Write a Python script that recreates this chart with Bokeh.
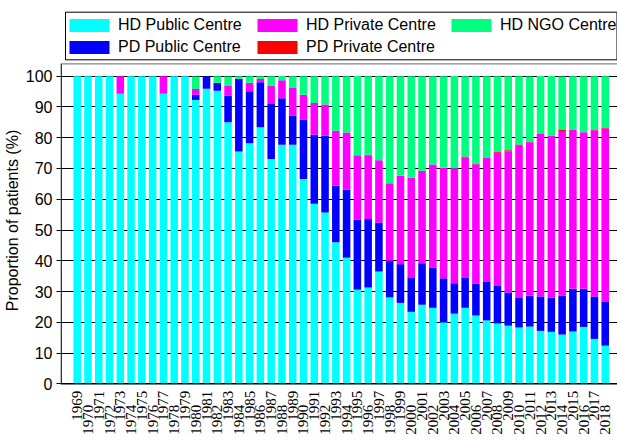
from bokeh.plotting import figure
from bokeh.models import (ColumnDataSource, Legend, LegendItem, LabelSet, FixedTicker,
                          Span, BoxAnnotation)
from bokeh.embed import file_html
from bokeh.resources import INLINE

years = list(range(1969, 2019))
year_labels = [str(y) for y in years]

hd_public = [100, 100, 100, 100, 94.3, 100, 100, 100, 94.3, 100,
             100, 92.3, 95.9, 95.3, 85.0, 75.5, 78.2, 83.4, 73.1, 77.7,
             77.7, 66.6, 58.5, 55.7, 46.0, 41.0, 30.6, 31.3, 36.5, 28.1,
             26.3, 23.4, 25.7, 24.7, 20.0, 22.8, 24.7, 22.2, 20.6, 19.6,
             18.9, 18.3, 18.6, 17.2, 16.9, 16.0, 17.0, 18.5, 14.6, 12.4]
pd_public = [0, 0, 0, 0, 0, 0, 0, 0, 0, 0,
             0, 1.7, 4.1, 2.6, 8.7, 23.7, 16.9, 14.6, 17.9, 15.1,
             9.5, 19.3, 22.5, 24.9, 18.4, 22.1, 22.8, 22.3, 15.9, 11.9,
             12.6, 11.2, 13.5, 13.0, 14.3, 9.9, 9.9, 10.4, 12.7, 12.4,
             10.8, 9.8, 10.0, 11.2, 11.1, 12.7, 13.9, 12.4, 13.8, 14.4]
hd_private = [0, 0, 0, 0, 5.7, 0, 0, 0, 5.7, 0,
              0, 1.8, 0, 0, 3.1, 0, 2.8, 1.1, 6.0, 5.9,
              9.0, 8.1, 10.3, 10.2, 17.9, 18.6, 20.9, 20.6, 20.3, 25.2,
              28.7, 32.4, 30.1, 33.6, 35.9, 37.4, 39.0, 38.8, 40.1, 43.1,
              45.9, 49.3, 49.9, 52.8, 52.7, 53.5, 51.8, 50.9, 54.0, 56.2]
pd_private = [0, 0, 0, 0, 0, 0, 0, 0, 0, 0,
              0, 0, 0, 0, 0, 0, 0, 0, 0, 0,
              0, 0, 0, 0, 0, 0, 0, 0.3, 0, 0,
              0, 0, 0, 0, 0, 0, 0.3, 0.2, 0.2, 0.4,
              0.3, 0.4, 0.3, 0, 0, 0.3, 0, 0, 0.3, 0.3]
hd_ngo = [0, 0, 0, 0, 0, 0, 0, 0, 0, 0,
          0, 4.1, 0, 2.1, 3.1, 0.8, 2.1, 0.9, 3.0, 1.4,
          3.8, 6.0, 8.7, 9.2, 17.7, 18.3, 25.8, 25.5, 27.3, 34.8,
          32.4, 33.0, 30.7, 28.7, 29.8, 30.0, 26.1, 28.4, 26.4, 24.5,
          24.1, 22.2, 21.1, 18.9, 19.4, 17.4, 17.3, 18.2, 17.3, 16.7]

series_names = ["HD Public Centre", "PD Public Centre", "HD Private Centre",
                "PD Private Centre", "HD NGO Centre"]
series_keys = ["hd_public", "pd_public", "hd_private", "pd_private", "hd_ngo"]
series_colors = ["#00FFFF", "#0000FF", "#FF00FF", "#FF0000", "#00FF7F"]
y_ticks = [0, 10, 20, 30, 40, 50, 60, 70, 80, 90, 100]
y_top = 104

FONT = "Liberation Sans"

# ---- layout constants (pixels, relative to the figure canvas) ----
W, H = 617, 440
LEFT = 60                    # width of left axis panel
FRAME_W = W - LEFT
PX_X = 10.776                # px per year
PX_Y = 3.076                 # px per percent
ZERO_Y = 383.3               # canvas y of value 0
FIRST_BAR_PX = 16.7          # first bar centre from frame left

x0 = years[0] - FIRST_BAR_PX / PX_X
x1 = x0 + FRAME_W / PX_X
y0 = -(H - ZERO_Y) / PX_Y
y1 = y0 + H / PX_Y


def dx(px):  # canvas px -> data x
    return x0 + (px - LEFT) / PX_X


def dy(py):  # canvas py -> data y
    return (ZERO_Y - py) / PX_Y


source = ColumnDataSource(dict(year=years, hd_public=hd_public, pd_public=pd_public,
                               hd_private=hd_private, pd_private=pd_private, hd_ngo=hd_ngo))

p = figure(width=W, height=H, x_range=(x0, x1), y_range=(y0, y1),
           output_backend="svg", toolbar_location=None,
           min_border_left=LEFT, min_border_right=0, min_border_top=0, min_border_bottom=0)

renderers = p.vbar_stack(series_keys, x="year", width=0.7, color=series_colors,
                         line_color=None, source=source)

p.xaxis.visible = False
p.xgrid.visible = False

p.yaxis.ticker = FixedTicker(ticks=y_ticks)
p.yaxis.major_tick_out = 4
p.yaxis.major_tick_in = 0
p.yaxis.minor_tick_out = 0
p.yaxis.minor_tick_in = 0
p.yaxis.major_tick_line_color = "black"
p.yaxis.major_label_standoff = 4
p.yaxis.major_label_text_font = FONT
p.yaxis.major_label_text_font_size = "16px"
p.yaxis.major_label_text_color = "black"
p.yaxis.axis_line_color = None
p.yaxis.axis_label = "Proportion of patients (%)"
p.yaxis.axis_label_text_font = FONT
p.yaxis.axis_label_text_font_size = "16px"
p.yaxis.axis_label_text_font_style = "normal"
p.yaxis.axis_label_text_color = "black"
p.yaxis.axis_label_standoff = 2

p.ygrid.ticker = FixedTicker(ticks=y_ticks)
p.ygrid.grid_line_color = "black"
p.ygrid.grid_line_width = 1
p.ygrid.grid_line_alpha = 1

p.outline_line_color = None
p.background_fill_color = "white"
p.border_fill_color = "white"

# axis lines and top border
p.segment(x0=[x0 + 0.06], y0=[0], x1=[x0 + 0.06], y1=[y_top], line_color="black", line_width=1.3)
p.add_layout(Span(location=0, dimension="width", line_color="black", line_width=1.6))
p.add_layout(Span(location=y_top, dimension="width", line_color="#666666", line_width=1))

# staggered year labels
lab_even = ColumnDataSource(dict(x=years[0::2], y=[0] * len(years[0::2]), t=year_labels[0::2]))
lab_odd = ColumnDataSource(dict(x=years[1::2], y=[0] * len(years[1::2]), t=year_labels[1::2]))
for src, off in ((lab_even, -7), (lab_odd, -21)):
    p.add_layout(LabelSet(x="x", y="y", text="t", source=src, angle=1.5707963,
                          text_align="right", text_baseline="middle", y_offset=off,
                          text_font=FONT, text_font_size="15px", text_color="black"))

# legend: three columns, shared border
cols = [[0, 1], [2, 3], [4]]
col_left_px = [4, 192, 386]          # glyph area left edge from frame left
legend_top_px = 13.5                 # from canvas top
for idxs, lx in zip(cols, col_left_px):
    items = [LegendItem(label=series_names[i], renderers=[renderers[i]]) for i in idxs]
    lh = 22 * len(idxs)
    lg = Legend(items=items, orientation="vertical", location=(lx, H - legend_top_px - lh),
                glyph_width=50, glyph_height=16, label_standoff=4, label_height=22,
                spacing=0, padding=0, margin=0,
                label_text_font=FONT, label_text_font_size="16px", label_text_color="black",
                border_line_color=None, background_fill_alpha=0)
    p.add_layout(lg, "center")

p.add_layout(BoxAnnotation(left=dx(65), right=dx(616.5), top=dy(11.7), bottom=dy(59.3),
                           fill_alpha=0, line_color="black", line_width=1, line_alpha=1))

open("out.html", "w").write(file_html(p, INLINE))
